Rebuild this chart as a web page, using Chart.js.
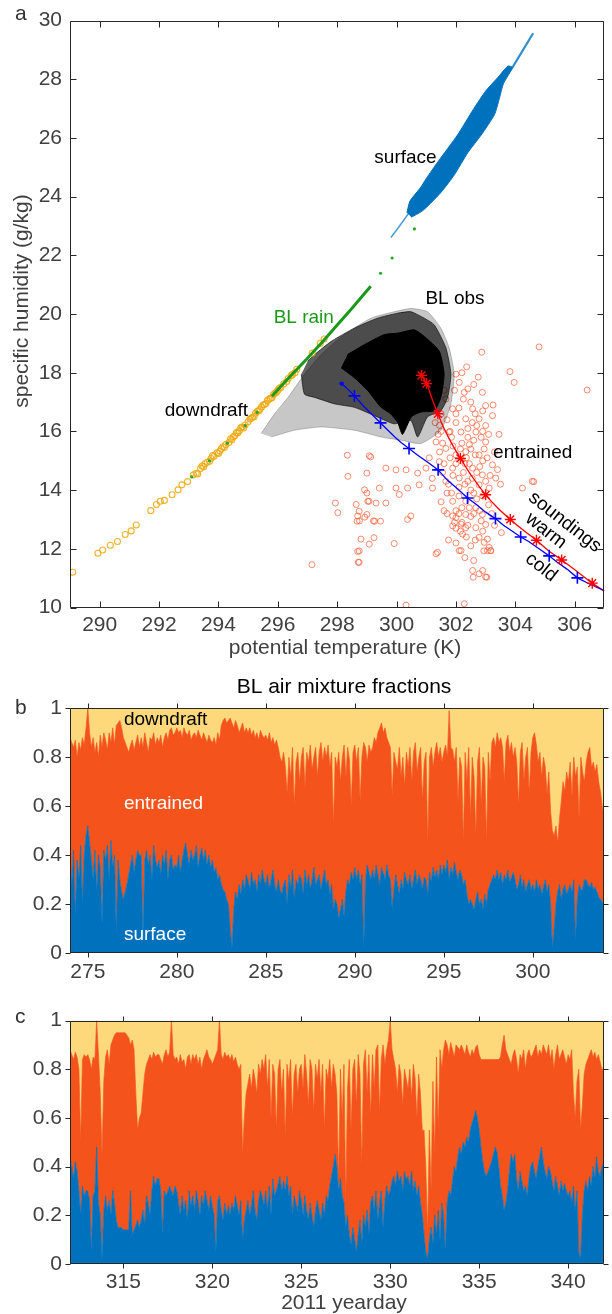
<!DOCTYPE html>
<html><head><meta charset="utf-8">
<script src="https://cdn.jsdelivr.net/npm/chart.js@4.4.1/dist/chart.umd.min.js"></script>
<style>
html,body{margin:0;padding:0;background:#fff;}
body{width:612px;height:1314px;position:relative;overflow:hidden;}
canvas{position:absolute;left:0;}
</style></head>
<body>
<canvas id="ca" width="612" height="660" style="top:0"></canvas>
<canvas id="cb" width="612" height="340" style="top:660px"></canvas>
<canvas id="cc" width="612" height="314" style="top:1000px"></canvas>
<script>
// ===================== DATA: panel a (theta K, q g/kg) =====================
const xTicksA = [290,292,294,296,298,300,302,304,306];
const yTicksA = [10,12,14,16,18,20,22,24,26,28,30];

const surfaceBlob = [[300.35,23.45],[300.45,23.85],[300.80,24.30],[301.00,24.62],[301.40,25.20],[302.05,26.10],[302.60,27.00],[303.00,27.60],[303.40,28.05],[303.75,28.45],[303.90,28.40],[303.60,27.85],[303.45,27.30],[303.30,26.80],[302.85,26.10],[302.40,25.50],[301.95,24.75],[301.50,24.15],[301.15,23.78],[300.85,23.50],[300.50,23.30]];
const surfaceTailLow = [[299.81,22.61],[300.10,23.00],[300.42,23.45]];
const surfaceTailHigh = [[303.50,27.90],[303.90,28.40],[304.20,28.90],[304.60,29.57]];

const blObsHalo = [[295.44,15.93],[295.89,16.60],[296.34,17.16],[296.90,17.95],[297.46,18.62],[298.24,19.30],[299.14,19.86],[299.92,20.08],[300.48,20.19],[301.04,20.08],[301.49,19.52],[301.77,18.85],[301.94,17.95],[301.83,16.94],[301.49,16.04],[300.82,15.59],[300.15,15.70],[299.48,15.81],[298.58,16.04],[297.46,16.15],[296.56,16.04],[295.78,15.81]];
const blObsMid = [[297.01,18.40],[297.24,18.62],[297.80,19.07],[298.58,19.52],[299.36,19.86],[300.04,20.03],[300.48,20.08],[300.93,19.86],[301.27,19.63],[301.66,18.85],[301.83,17.95],[301.72,17.16],[301.49,16.71],[301.04,16.49],[300.71,15.81],[300.48,16.37],[299.92,16.26],[299.36,16.49],[298.58,16.82],[297.91,16.94],[297.24,17.16],[296.90,17.27],[296.79,17.95]];
const blObsCore = [[298.35,18.62],[298.92,18.96],[299.59,19.30],[300.04,19.35],[300.60,19.46],[300.93,19.24],[301.44,18.73],[301.60,17.95],[301.49,17.16],[301.27,16.71],[300.82,16.66],[300.50,16.50],[300.20,15.90],[300.04,16.30],[299.80,16.60],[299.48,16.82],[299.03,17.39],[298.58,17.83],[298.13,18.17]];

const blRainLine = [[295.80,17.20],[296.30,17.75],[296.96,18.45],[297.50,19.05],[298.00,19.63],[298.50,20.20],[298.92,20.70],[299.13,20.95]];
const blRainDots = [[293.10,14.45],[293.70,15.00],[294.30,15.60],[294.90,16.20],[295.30,16.65],[299.46,21.39],[299.85,21.91],[300.60,22.90]];

const downdraftPts = [[289.09,11.20],[289.94,11.85],[290.10,11.96],[290.36,12.12],[290.60,12.25],[290.86,12.49],[291.06,12.61],[291.23,12.81],[291.72,13.30],[291.91,13.51],[292.04,13.62],[292.18,13.65],[292.44,13.84],[292.64,14.01],[292.77,14.18],[292.96,14.29],[293.16,14.52],[293.25,14.57],[293.40,14.74],[293.50,14.80],[293.62,14.95],[293.75,15.08],[293.85,15.15],[293.95,15.27],[294.05,15.33],[294.15,15.48],[294.25,15.55],[294.41,15.75],[294.50,15.82],[294.60,15.95],[294.70,16.02],[294.80,16.15],[294.90,16.22],[295.06,16.42],[295.15,16.48],[295.25,16.62],[295.35,16.70],[295.45,16.83],[295.55,16.92],[295.65,17.05],[295.75,17.12],[295.85,17.25],[295.95,17.33],[296.05,17.47],[296.20,17.62],[296.35,17.80],[296.50,17.95],[296.64,18.12],[297.16,18.67],[297.43,19.00],[297.56,19.15],[293.30,14.55],[293.45,14.82],[293.55,14.90],[293.70,14.98],[293.80,15.18],[294.00,15.25],[294.10,15.42],[294.20,15.45],[294.35,15.62],[294.45,15.72],[294.55,15.85],[294.65,15.95],[294.75,16.12],[294.85,16.12],[295.00,16.33],[295.10,16.45],[295.20,16.50],[295.30,16.68],[295.40,16.75],[295.50,16.90],[295.60,16.95],[295.70,17.10],[295.80,17.15],[295.90,17.30],[296.00,17.40],[296.10,17.50],[296.30,17.70],[296.45,17.90],[296.58,18.00]];

const entrainedPts = [[302.87,18.70],[304.80,18.88],[303.82,18.04],[303.96,17.67],[306.42,17.41],[302.36,18.20],[302.00,17.95],[302.11,17.67],[302.28,17.33],[301.66,17.10],[301.89,16.77],[302.89,17.33],[303.00,16.88],[302.56,16.77],[302.33,16.43],[302.78,16.43],[303.23,16.54],[301.44,16.21],[301.77,15.98],[302.17,15.98],[302.67,15.98],[303.00,15.64],[301.33,15.64],[301.66,15.42],[302.33,15.31],[302.78,15.20],[303.23,14.86],[301.44,14.97],[300.99,14.75],[301.89,14.75],[302.56,14.75],[302.89,14.52],[303.34,14.41],[302.11,14.41],[301.66,14.30],[301.21,14.07],[300.76,14.18],[302.78,14.18],[303.12,14.07],[302.33,13.62],[301.89,13.62],[302.67,13.40],[302.89,13.17],[302.00,13.06],[302.33,12.72],[302.67,12.72],[302.22,12.50],[302.78,12.39],[302.11,11.94],[303.12,12.05],[303.06,11.94],[302.95,12.22],[302.56,11.26],[303.00,11.04],[302.78,11.15],[301.33,11.83],[300.32,10.08],[299.08,15.17],[298.36,14.47],[299.00,14.58],[299.64,14.75],[299.98,14.69],[300.32,14.69],[300.71,14.58],[300.37,14.07],[299.98,14.07],[299.42,14.07],[299.03,13.62],[298.64,13.51],[298.92,14.01],[299.31,13.56],[299.64,13.56],[300.09,13.85],[300.48,13.12],[300.37,13.00],[299.22,12.95],[298.69,13.12],[298.75,12.95],[299.00,13.17],[297.94,13.56],[298.02,13.23],[298.80,12.33],[299.08,12.16],[298.69,11.91],[298.71,11.54],[299.92,12.18],[297.15,11.46],[301.89,13.12],[302.17,12.84],[303.00,12.83],[303.06,12.33],[303.17,11.94],[301.38,11.88],[302.17,11.94],[301.89,12.78],[302.33,13.17],[304.57,14.30],[304.24,14.07],[298.34,15.19],[299.13,15.13],[299.00,13.90],[299.07,13.62],[298.74,13.28],[298.93,13.08],[298.67,12.94],[299.26,12.94],[299.46,12.94],[299.24,12.38],[298.74,11.93],[298.74,11.54],[302.28,10.13],[304.62,14.29],[303.53,12.55],[302.94,11.93],[303.17,11.93],[302.90,11.26],[302.58,11.03],[303.04,11.03],[301.50,16.60],[301.70,16.40],[302.00,16.30],[302.40,16.10],[302.60,15.70],[302.20,15.60],[301.90,15.50],[302.50,15.40],[302.00,15.20],[302.90,15.00],[301.60,14.90],[302.30,14.90],[302.70,14.60],[301.90,14.50],[302.40,14.30],[302.10,14.10],[301.70,13.90],[302.60,13.90],[302.90,13.80],[302.20,13.40],[301.60,13.30],[302.50,13.10],[303.10,13.50],[302.00,12.70],[302.50,12.10],[302.90,12.60],[301.80,16.00],[302.10,16.80],[302.50,17.00],[302.70,16.20],[303.10,15.90],[303.30,15.30],[301.40,15.90],[301.60,17.40],[302.20,18.00],[302.60,17.60],[302.90,16.70],[303.00,16.20],[302.40,15.80],[301.80,15.10],[302.80,13.30],[302.20,12.90],[303.40,14.70],[302.50,14.00],[303.00,14.30],[301.30,16.30],[301.50,16.00],[301.55,15.60],[301.45,15.30],[301.55,14.60],[301.75,14.20],[301.85,13.90],[302.00,13.30],[302.10,13.80],[302.25,14.60],[302.35,15.10],[302.45,15.55],[302.55,16.30],[302.65,16.60],[302.85,15.80],[302.95,15.40],[303.05,15.10],[302.65,15.20],[302.55,14.40],[302.80,14.80],[302.30,14.20],[302.00,14.90],[301.85,15.80],[302.15,15.40],[302.45,14.90],[302.70,13.70],[302.45,13.40],[302.10,13.20],[301.95,12.90],[302.35,12.40],[302.65,12.30],[303.20,13.20],[303.30,12.80],[302.60,11.60],[302.30,11.70],[301.75,12.30],[302.00,12.20],[301.50,13.60],[301.20,14.40],[301.10,15.10],[303.45,15.90],[303.50,14.20],[303.25,16.90],[302.00,16.60],[302.25,17.10],[301.95,17.40],[302.75,17.85],[302.40,17.45],[302.90,16.00],[303.15,14.50],[302.60,13.20],[302.85,12.95],[302.40,12.80],[302.15,12.60],[301.70,13.20]];

const coldLine = [[298.15,17.63],[298.40,17.40],[298.58,17.21],[298.90,16.85],[299.20,16.55],[299.46,16.29],[299.70,16.05],[299.95,15.80],[300.15,15.62],[300.42,15.42],[300.70,15.20],[301.05,14.95],[301.40,14.69],[301.70,14.35],[302.05,14.05],[302.39,13.73],[302.70,13.50],[303.00,13.25],[303.33,13.03],[303.60,12.80],[303.90,12.60],[304.18,12.40],[304.45,12.25],[304.80,12.00],[305.14,11.76],[305.40,11.55],[305.75,11.30],[306.09,11.01],[306.50,10.80],[307.00,10.57]];
const coldMarks = [[298.58,17.21],[299.46,16.29],[300.42,15.42],[301.40,14.69],[302.39,13.73],[303.33,13.03],[304.18,12.40],[305.14,11.76],[306.09,11.01]];
const warmLine = [[300.84,17.91],[301.01,17.63],[301.20,17.10],[301.39,16.60],[301.60,16.10],[301.85,15.60],[302.15,15.08],[302.55,14.45],[303.00,13.84],[303.40,13.40],[303.83,13.00],[304.25,12.65],[304.71,12.29],[305.10,11.95],[305.56,11.62],[306.05,11.25],[306.59,10.83],[307.00,10.56]];
const warmMarks = [[300.84,17.91],[301.01,17.63],[301.39,16.60],[302.15,15.08],[303.00,13.84],[303.83,13.00],[304.71,12.29],[305.56,11.62],[306.59,10.83]];

// ===================== DATA: panels b, c (mixture fractions) =====================
const yTicksBC = [0,0.2,0.4,0.6,0.8,1];
const xTicksB = [275,280,285,290,295,300];
const dayStartB = 274, dayStepB = 0.1;
// surface fraction
const surfaceB = [
0.40,0.28,0.42,0.15,0.38,0.30,0.44,0.20,0.40,0.48,
0.52,0.45,0.38,0.30,0.42,0.25,0.40,0.35,0.12,0.42,
0.38,0.44,0.30,0.46,0.35,0.40,0.08,0.38,0.30,0.25,
0.22,0.25,0.28,0.32,0.36,0.40,0.33,0.38,0.42,0.40,
0.40,0.05,0.38,0.42,0.36,0.40,0.30,0.44,0.38,0.35,
0.38,0.32,0.40,0.36,0.42,0.30,0.38,0.40,0.34,0.36,
0.35,0.40,0.33,0.38,0.42,0.45,0.40,0.36,0.42,0.38,
0.40,0.44,0.35,0.40,0.43,0.38,0.42,0.36,0.40,0.35,
0.38,0.33,0.35,0.30,0.32,0.28,0.26,0.25,0.22,0.20,
0.10,0.02,0.18,0.25,0.22,0.28,0.24,0.30,0.26,0.32,
0.30,0.26,0.33,0.28,0.30,0.25,0.32,0.28,0.34,0.30,
0.28,0.32,0.26,0.30,0.34,0.28,0.25,0.30,0.26,0.24,
0.28,0.30,0.20,0.32,0.26,0.34,0.22,0.30,0.28,0.32,
0.30,0.24,0.34,0.28,0.32,0.26,0.30,0.35,0.28,0.30,
0.32,0.26,0.30,0.34,0.28,0.30,0.24,0.28,0.18,0.22,
0.20,0.14,0.18,0.22,0.15,0.25,0.30,0.28,0.33,0.30,
0.35,0.30,0.34,0.28,0.32,0.02,0.30,0.36,0.33,0.30,
0.34,0.30,0.36,0.32,0.28,0.35,0.33,0.30,0.36,0.32,
0.30,0.18,0.26,0.32,0.28,0.24,0.30,0.26,0.33,0.30,
0.28,0.32,0.26,0.30,0.34,0.28,0.32,0.30,0.26,0.31,
0.30,0.24,0.33,0.29,0.35,0.31,0.34,0.30,0.36,0.32,
0.36,0.33,0.38,0.30,0.35,0.32,0.37,0.33,0.30,0.34,
0.32,0.28,0.30,0.24,0.20,0.22,0.20,0.18,0.22,0.25,
0.20,0.22,0.18,0.24,0.20,0.26,0.28,0.30,0.32,0.30,
0.34,0.30,0.33,0.28,0.32,0.30,0.34,0.29,0.31,0.33,
0.30,0.26,0.28,0.32,0.27,0.30,0.25,0.28,0.30,0.26,
0.28,0.25,0.30,0.26,0.28,0.24,0.27,0.30,0.25,0.28,
0.20,0.02,0.10,0.20,0.25,0.28,0.22,0.26,0.28,0.24,
0.26,0.28,0.25,0.30,0.05,0.22,0.28,0.26,0.26,0.30,
0.30,0.28,0.27,0.29,0.26,0.27,0.25,0.23,0.22,0.21,
0.20];
// surface + entrained (upper edge of the entrained band)
const surfEntrB = [
0.88,0.86,0.84,0.87,0.80,0.86,0.83,0.88,0.85,0.92,
1.00,0.90,0.84,0.88,0.82,0.86,0.80,0.89,0.84,0.90,
0.87,0.83,0.90,0.86,0.92,0.85,0.93,0.94,0.95,0.92,
0.88,0.86,0.84,0.82,0.85,0.87,0.83,0.86,0.89,0.84,
0.88,0.84,0.90,0.86,0.82,0.88,0.87,0.90,0.85,0.88,
0.86,0.89,0.84,0.88,0.90,0.87,0.91,0.92,0.89,0.90,
0.92,0.90,0.91,0.88,0.92,0.90,0.89,0.91,0.87,0.89,
0.90,0.88,0.91,0.89,0.87,0.90,0.88,0.86,0.89,0.87,
0.86,0.88,0.85,0.90,0.87,0.93,0.95,0.96,0.94,0.95,
0.96,0.94,0.92,0.95,0.93,0.90,0.92,0.94,0.90,0.92,
0.90,0.92,0.89,0.91,0.88,0.90,0.87,0.91,0.89,0.88,
0.89,0.87,0.90,0.86,0.88,0.85,0.87,0.84,0.80,0.78,
0.82,0.76,0.65,0.80,0.72,0.84,0.60,0.78,0.82,0.70,
0.80,0.84,0.68,0.82,0.78,0.85,0.75,0.80,0.84,0.72,
0.82,0.86,0.78,0.84,0.80,0.85,0.76,0.82,0.52,0.80,
0.76,0.82,0.70,0.80,0.85,0.72,0.84,0.79,0.60,0.82,
0.85,0.78,0.84,0.62,0.80,0.86,0.84,0.78,0.85,0.82,
0.84,0.88,0.86,0.90,0.92,0.94,0.90,0.92,0.88,0.86,
0.84,0.64,0.82,0.78,0.75,0.84,0.72,0.80,0.68,0.82,
0.76,0.84,0.70,0.82,0.86,0.74,0.80,0.84,0.62,0.78,
0.82,0.45,0.80,0.84,0.76,0.82,0.86,0.80,0.84,0.78,
0.82,0.85,0.80,0.99,0.84,0.83,0.78,0.84,0.62,0.80,
0.76,0.45,0.82,0.70,0.84,0.55,0.80,0.72,0.48,0.78,
0.84,0.60,0.80,0.76,0.45,0.82,0.70,0.86,0.88,0.84,
0.90,0.86,0.88,0.84,0.70,0.86,0.89,0.82,0.86,0.80,
0.84,0.78,0.60,0.82,0.86,0.70,0.80,0.84,0.65,0.82,
0.88,0.90,0.85,0.78,0.82,0.72,0.80,0.76,0.65,0.74,
0.58,0.50,0.48,0.52,0.45,0.55,0.62,0.70,0.66,0.74,
0.70,0.78,0.64,0.80,0.72,0.76,0.55,0.80,0.74,0.70,
0.78,0.82,0.84,0.76,0.78,0.74,0.77,0.70,0.66,0.60,
0.55];

const xTicksC = [315,320,325,330,335,340];
const dayStartC = 312, dayStepC = 0.1;
const surfaceC = [
0.44,0.40,0.35,0.42,0.38,0.30,0.20,0.32,0.28,0.30,
0.30,0.26,0.05,0.28,0.30,0.48,0.25,0.20,0.02,0.22,
0.28,0.22,0.26,0.20,0.30,0.25,0.18,0.15,0.15,0.15,
0.14,0.14,0.14,0.14,0.30,0.12,0.14,0.16,0.18,0.15,
0.18,0.22,0.16,0.28,0.25,0.20,0.30,0.36,0.32,0.35,
0.35,0.30,0.12,0.30,0.28,0.30,0.32,0.30,0.28,0.32,
0.30,0.25,0.20,0.28,0.22,0.26,0.18,0.30,0.24,0.28,
0.22,0.30,0.26,0.20,0.28,0.24,0.30,0.26,0.22,0.28,
0.24,0.20,0.05,0.26,0.28,0.22,0.18,0.25,0.20,0.24,
0.20,0.25,0.22,0.28,0.24,0.20,0.26,0.10,0.18,0.22,
0.26,0.20,0.24,0.30,0.22,0.18,0.26,0.30,0.28,0.24,
0.30,0.22,0.32,0.20,0.35,0.28,0.30,0.33,0.36,0.30,
0.34,0.30,0.36,0.28,0.32,0.20,0.28,0.25,0.22,0.30,
0.26,0.20,0.28,0.22,0.18,0.25,0.20,0.15,0.22,0.26,
0.22,0.18,0.25,0.20,0.28,0.26,0.32,0.36,0.40,0.45,
0.40,0.30,0.35,0.28,0.25,0.15,0.20,0.12,0.08,0.15,
0.10,0.05,0.12,0.18,0.08,0.20,0.15,0.22,0.12,0.25,
0.28,0.22,0.30,0.18,0.25,0.30,0.15,0.26,0.32,0.28,
0.30,0.34,0.36,0.32,0.38,0.34,0.36,0.30,0.38,0.35,
0.36,0.32,0.38,0.30,0.34,0.28,0.32,0.25,0.20,0.12,
0.05,0.02,0.10,0.15,0.08,0.20,0.12,0.22,0.10,0.25,
0.20,0.05,0.25,0.30,0.28,0.34,0.40,0.38,0.44,0.48,
0.45,0.50,0.48,0.52,0.50,0.55,0.58,0.60,0.63,0.60,
0.55,0.48,0.42,0.38,0.36,0.38,0.40,0.42,0.45,0.48,
0.46,0.40,0.32,0.28,0.22,0.25,0.30,0.38,0.45,0.42,
0.45,0.35,0.30,0.38,0.34,0.30,0.32,0.28,0.35,0.40,
0.42,0.38,0.35,0.40,0.44,0.48,0.42,0.38,0.35,0.40,
0.38,0.34,0.30,0.36,0.32,0.28,0.34,0.30,0.33,0.30,
0.28,0.30,0.25,0.32,0.22,0.30,0.05,0.02,0.20,0.30,
0.34,0.30,0.36,0.32,0.40,0.35,0.44,0.38,0.36,0.40,
0.42];
const surfEntrC = [
0.88,0.86,0.84,0.87,0.85,0.80,0.50,0.84,0.86,0.85,
0.86,0.84,0.80,0.85,0.84,1.00,0.86,0.70,0.45,0.75,
0.85,0.88,0.82,0.90,0.92,0.94,0.95,0.95,0.95,0.95,
0.95,0.95,0.94,0.93,0.90,0.92,0.88,0.70,0.55,0.60,
0.62,0.70,0.78,0.82,0.84,0.86,0.84,0.87,0.85,0.86,
0.86,0.84,0.82,0.86,0.88,0.85,0.87,1.00,0.86,0.84,
0.85,0.82,0.86,0.83,0.84,0.80,0.85,0.86,0.82,0.86,
0.84,0.86,0.82,0.85,0.80,0.84,0.86,0.88,0.85,0.84,
0.82,0.84,0.86,0.88,1.00,0.86,0.84,0.87,0.85,0.86,
0.84,0.86,0.83,0.85,0.82,0.80,0.82,0.45,0.60,0.70,
0.74,0.78,0.72,0.80,0.76,0.70,0.82,0.78,0.84,0.80,
0.86,0.72,0.84,0.60,0.82,0.78,0.55,0.80,0.84,0.70,
0.80,0.52,0.82,0.75,0.84,0.60,0.78,0.82,0.70,0.80,
0.82,0.72,0.86,0.78,0.65,0.84,0.80,0.62,0.82,0.76,
0.84,0.70,0.82,0.55,0.80,0.76,0.84,0.72,0.82,0.78,
0.70,0.35,0.80,0.60,0.82,0.25,0.72,0.84,0.55,0.80,
0.84,0.65,0.86,0.78,0.40,0.82,0.88,0.70,0.86,0.60,
0.86,0.72,0.88,0.90,0.62,0.84,0.90,0.82,0.88,0.92,
1.00,0.88,0.84,0.80,0.70,0.82,0.78,0.65,0.80,0.76,
0.72,0.80,0.68,0.82,0.76,0.60,0.78,0.70,0.55,0.55,
0.40,0.12,0.55,0.30,0.75,0.45,0.85,0.55,0.88,0.80,
0.88,0.92,0.90,0.86,0.91,0.88,0.85,0.90,0.89,0.88,
0.90,0.88,0.86,0.90,0.87,0.85,0.88,0.86,0.89,0.90,
0.86,0.84,0.84,0.84,0.84,0.84,0.84,0.84,0.84,0.84,
0.84,0.84,0.85,0.90,0.94,0.88,0.86,0.84,0.82,0.86,
0.88,0.84,0.78,0.86,0.84,0.88,0.80,0.86,0.88,0.85,
0.86,0.88,0.90,0.85,0.88,0.86,0.90,0.88,0.86,0.90,
0.84,0.88,0.80,0.86,0.90,0.84,0.86,0.88,0.85,0.82,
0.86,0.84,0.88,0.70,0.60,0.75,0.80,0.55,0.65,0.78,
0.82,0.84,0.86,0.88,0.85,0.87,0.84,0.86,0.83,0.80,
0.80];

// ===================== STYLE =====================
const FONT = "'Liberation Sans', Arial, Helvetica, sans-serif";
const AXIS = '#262626', TICKTXT = '#404040';
const BLUE = '#0072BD', ORANGE = '#F4531C', YELLOW = '#FED97B';

const pts = arr => arr.map(([x, y]) => ({x, y}));

function framePlugin(dir, len, texts) {
  return {
    id: 'frame',
    afterDraw(chart) {
      const {ctx, chartArea: a} = chart;
      const xs = chart.scales.x, ys = chart.scales.y;
      ctx.save();
      ctx.strokeStyle = AXIS; ctx.lineWidth = 1;
      ctx.beginPath();
      const L = Math.round(a.left) + 0.5, R = Math.round(a.right) - 0.5;
      const T = Math.round(a.top) + 0.5, B = Math.round(a.bottom) - 0.5;
      ctx.rect(L, T, R - L, B - T);
      xs.ticks.forEach(t => {
        const p = Math.round(xs.getPixelForValue(t.value)) + 0.5;
        ctx.moveTo(p, B); ctx.lineTo(p, B - dir * len);
        ctx.moveTo(p, T); ctx.lineTo(p, T + dir * len);
      });
      ys.ticks.forEach(t => {
        const p = Math.round(ys.getPixelForValue(t.value)) + 0.5;
        ctx.moveTo(L, p); ctx.lineTo(L + dir * len, p);
        ctx.moveTo(R, p); ctx.lineTo(R - dir * len, p);
      });
      ctx.stroke();
      texts.forEach(o => {
        let px = o.px, py = o.py;
        if (o.x !== undefined) { px = xs.getPixelForValue(o.x); py = ys.getPixelForValue(o.y); }
        ctx.save();
        ctx.translate(px, py);
        if (o.rot) ctx.rotate(o.rot * Math.PI / 180);
        ctx.font = (o.size || 19) + 'px ' + FONT;
        ctx.fillStyle = o.color || '#000';
        ctx.textAlign = o.align || 'left';
        ctx.textBaseline = 'middle';
        ctx.fillText(o.t, 0, 0);
        ctx.restore();
      });
      ctx.restore();
    }
  };
}

function axisCfg(min, max, ticks, fmt, fitKey, fitVal, padding) {
  return {
    type: 'linear', min, max,
    afterBuildTicks: s => { s.ticks = ticks.map(v => ({value: v})); },
    afterFit: s => { s[fitKey] = fitVal; },
    grid: {display: false, drawTicks: false},
    border: {display: false},
    ticks: {font: {family: FONT, size: 21}, color: TICKTXT, padding, autoSkip: false, maxRotation: 0,
      callback: fmt}
  };
}
const fmtInt = v => String(v);
const fmtFrac = v => (v === 0 ? '0' : v === 1 ? '1' : v.toFixed(1));

const common = {
  responsive: false, animation: false, events: [],
  plugins: {legend: {display: false}, tooltip: {enabled: false}}
};

// ===================== PANEL a =====================
const textsA = [
  {t: 'surface', x: 299.25, y: 25.32},
  {t: 'BL obs', x: 300.97, y: 20.53},
  {t: 'BL rain', x: 295.86, y: 19.86, color: '#1a9a1a'},
  {t: 'downdraft', x: 292.19, y: 16.69},
  {t: 'entrained', x: 303.25, y: 15.27},
  {t: 'soundings', x: 305.67, y: 12.91, align: 'center', rot: 38},
  {t: 'warm', x: 305.03, y: 12.61, align: 'center', rot: 38},
  {t: 'cold', x: 304.87, y: 11.37, align: 'center', rot: 38},
  {t: 'a', px: 15, py: 14, size: 21, color: '#333'},
  {t: 'potential temperature (K)', px: 345, py: 648, size: 21, color: TICKTXT, align: 'center'},
  {t: 'specific humidity (g/kg)', px: 22, py: 301, size: 21, color: TICKTXT, align: 'center', rot: -90}
];

const poly = (data, color, order) => ({data: pts(data), showLine: true, fill: 'shape', backgroundColor: color,
  borderColor: color, borderWidth: 1, pointRadius: 0, tension: 0.2, order});

new Chart(document.getElementById('ca'), {
  type: 'scatter',
  data: {datasets: [
    {label: 'cold markers', data: pts(coldMarks), pointStyle: 'cross', pointRadius: 6, borderWidth: 1.6, borderColor: '#0000ff', order: 0},
    {label: 'warm markers', data: pts(warmMarks), pointStyle: 'star', pointRadius: 5.5, borderWidth: 1.4, borderColor: '#ff0000', order: 0},
    {label: 'cold sounding', data: pts(coldLine), showLine: true, borderColor: '#0000ff', borderWidth: 1.3, pointRadius: 0, order: 1},
    {label: 'cold start', data: pts(coldLine.slice(0, 1)), pointRadius: 2.2, backgroundColor: '#0000ff', borderWidth: 0, order: 1},
    {label: 'warm sounding', data: pts(warmLine), showLine: true, borderColor: '#ff0000', borderWidth: 1.3, pointRadius: 0, tension: 0.3, order: 1},
    {label: 'BL rain', data: pts(blRainLine), showLine: true, borderColor: '#1a991a', borderWidth: 3, pointRadius: 0, order: 2},
    {label: 'BL rain dots', data: pts(blRainDots), pointRadius: 1.6, backgroundColor: '#22aa22', borderWidth: 0, order: 2},
    {label: 'downdraft', data: pts(downdraftPts), pointStyle: 'circle', pointRadius: 3, backgroundColor: 'rgba(0,0,0,0)', borderColor: 'rgba(237,170,20,0.9)', borderWidth: 1.1, order: 3},
    poly(blObsCore, '#000000', 4),
    poly(blObsMid, 'rgba(0,0,0,0.62)', 5),
    poly(blObsHalo, 'rgba(0,0,0,0.22)', 6),
    {label: 'entrained', data: pts(entrainedPts), pointStyle: 'circle', pointRadius: 3, backgroundColor: 'rgba(0,0,0,0)', borderColor: 'rgba(250,90,50,0.7)', borderWidth: 1, order: 7},
    poly(surfaceBlob, BLUE, 8),
    {label: 'surface tail lo', data: pts(surfaceTailLow), showLine: true, borderColor: 'rgba(0,114,189,0.7)', borderWidth: 1.5, pointRadius: 0, order: 9},
    {label: 'surface tail hi', data: pts(surfaceTailHigh), showLine: true, borderColor: 'rgba(0,114,189,0.8)', borderWidth: 2.2, pointRadius: 0, order: 9}
  ]},
  options: Object.assign({}, common, {
    layout: {padding: {top: 14, right: 7, bottom: 0, left: 0}},
    scales: {
      x: axisCfg(289, 307, xTicksA, fmtInt, 'height', 52.5, 5),
      y: axisCfg(10, 30, yTicksA, fmtInt, 'width', 70, 8)
    }
  }),
  plugins: [framePlugin(1, 6, textsA)]
});

// ===================== PANELS b, c =====================
function mixChart(id, start, step, surf, surfEntr, xTicks, xmin, xmax, padTop, padRight, xH, texts) {
  const days = surf.map((_, i) => +(start + i * step).toFixed(3));
  const entr = surfEntr.map((v, i) => v - surf[i]);
  const down = surfEntr.map(v => 1 - v);
  const lvl1 = surf.map((v, i) => ({x: days[i], y: v}));
  const lvl2 = surf.map((v, i) => ({x: days[i], y: v + entr[i]}));
  const lvl3 = surf.map((v, i) => ({x: days[i], y: v + entr[i] + down[i]}));
  new Chart(document.getElementById(id), {
    type: 'scatter',
    data: {datasets: [
      {label: 'surface', data: lvl1, showLine: true, fill: 'origin', backgroundColor: BLUE, borderColor: BLUE, borderWidth: 0.7, pointRadius: 0},
      {label: 'entrained', data: lvl2, showLine: true, fill: '-1', backgroundColor: ORANGE, borderColor: ORANGE, borderWidth: 0.7, pointRadius: 0},
      {label: 'downdraft', data: lvl3, showLine: true, fill: '-1', backgroundColor: YELLOW, borderColor: YELLOW, borderWidth: 0, pointRadius: 0}
    ]},
    options: Object.assign({}, common, {
      layout: {padding: {top: padTop, right: padRight, bottom: 0, left: 0}},
      scales: {
        x: axisCfg(xmin, xmax, xTicks, fmtInt, 'height', xH, 6),
        y: axisCfg(0, 1, yTicksBC, fmtFrac, 'width', 70, 8)
      }
    }),
    plugins: [framePlugin(-1, 5, texts)]
  });
}

mixChart('cb', dayStartB, dayStepB, surfaceB, surfEntrB, xTicksB, 274, 304, 48.3, 8, 46.7, [
  {t: 'downdraft', x: 277.03, y: 0.955},
  {t: 'entrained', x: 277.03, y: 0.61, color: '#fff'},
  {t: 'surface', x: 277.03, y: 0.075, color: '#fff'},
  {t: 'b', px: 15, py: 48, size: 21, color: '#333'},
  {t: 'BL air mixture fractions', px: 344, py: 27.5, size: 21, color: '#000', align: 'center'}
]);

mixChart('cc', dayStartC, dayStepC, surfaceC, surfEntrC, xTicksC, 312, 342, 17.7, 8.3, 50, [
  {t: 'c', px: 15, py: 17, size: 21, color: '#333'},
  {t: '2011 yearday', px: 344, py: 303, size: 21, color: TICKTXT, align: 'center'}
]);
</script>
</body></html>
